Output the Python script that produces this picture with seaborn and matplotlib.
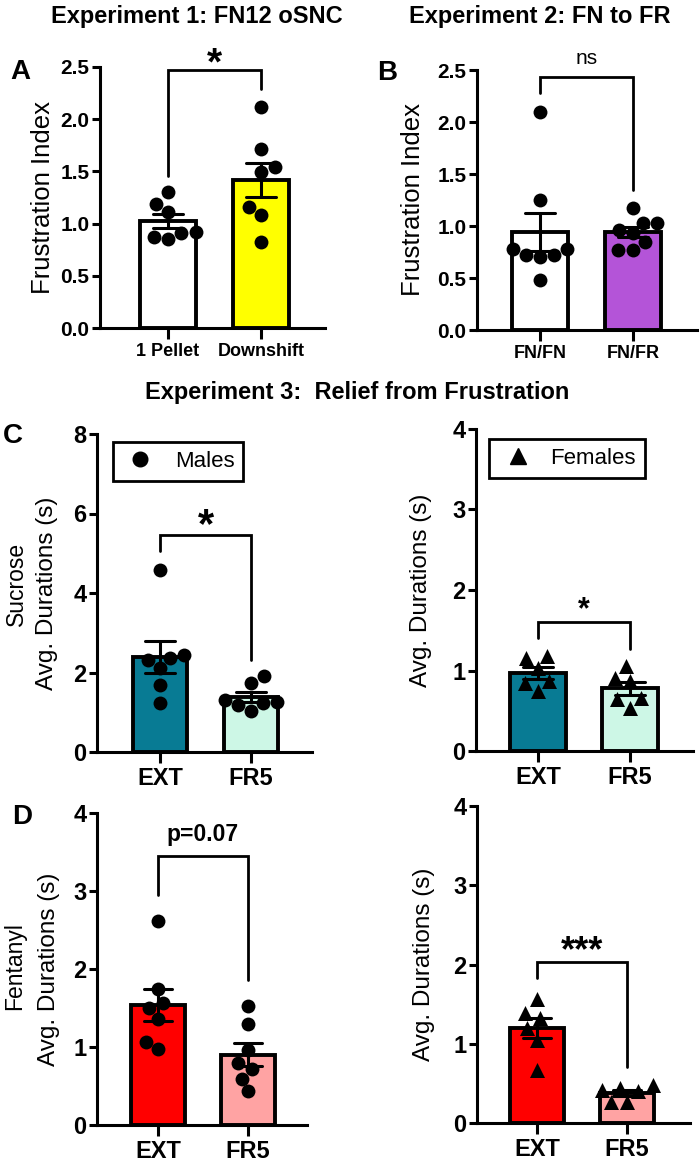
import numpy as np
import pandas as pd
import matplotlib
matplotlib.use("Agg")
import matplotlib.pyplot as plt
import seaborn as sns
from matplotlib.lines import Line2D

# ---------------- data ----------------
a_groups = ["1 Pellet", "Downshift"]
a_pellet = [1.30, 1.19, 1.11, 0.85, 0.92, 0.87, 0.91]
a_down = [2.12, 1.71, 1.54, 1.49, 1.16, 1.08, 0.82]

b_groups = ["FN/FN", "FN/FR"]
b_fnfn = [2.10, 1.25, 0.78, 0.72, 0.70, 0.72, 0.78, 0.48]
b_fnfr = [1.17, 1.03, 1.03, 0.96, 0.93, 0.77, 0.77, 0.85]

cd_groups = ["EXT", "FR5"]
c_male_ext = [4.59, 2.32, 2.36, 2.45, 2.11, 1.69, 1.23]
c_male_fr5 = [1.90, 1.73, 1.18, 1.31, 1.27, 1.23, 1.02]
c_fem_ext = [1.03, 1.18, 1.15, 0.87, 0.85, 0.74]
c_fem_fr5 = [0.91, 0.87, 1.05, 0.53, 0.66, 0.64]
d_male_ext = [2.61, 1.74, 1.50, 1.56, 1.36, 1.07, 0.97]
d_male_fr5 = [1.53, 1.29, 0.96, 0.79, 0.72, 0.59, 0.43]
d_fem_ext = [1.56, 1.39, 1.32, 1.20, 1.05, 0.67]
d_fem_fr5 = [0.44, 0.40, 0.42, 0.48, 0.27, 0.27]

a_colors = ["#ffffff", "#ffff00"]
b_colors = ["#ffffff", "#b454d8"]
c_colors = ["#087b94", "#cdf7e6"]
d_colors = ["#ff0000", "#ffa3a3"]

# ---------------- style ----------------
sns.set_style("ticks")
plt.rcParams["font.family"] = ["Liberation Sans", "DejaVu Sans"]
plt.rcParams["text.color"] = "black"
plt.rcParams["axes.labelcolor"] = "black"
plt.rcParams["xtick.color"] = "black"
plt.rcParams["ytick.color"] = "black"
plt.rcParams["axes.edgecolor"] = "black"

W, H = 700, 1164
fig = plt.figure(figsize=(W / 100, H / 100), dpi=100)


def px_axes(left, top, right, bottom):
    return fig.add_axes([left / W, 1 - bottom / H, (right - left) / W, (bottom - top) / H])


def panel(ax, groups, v1, v2, colors, ylim, yticks, yfmt, xlim, marker, msize,
          tick_fs, xtick_fs):
    df = pd.DataFrame({"group": [groups[0]] * len(v1) + [groups[1]] * len(v2),
                       "value": list(v1) + list(v2)})
    sns.barplot(data=df, x="group", y="value", hue="group", order=groups,
                hue_order=groups, palette=colors, saturation=1, errorbar="se",
                capsize=0.32, err_kws={"color": "k", "linewidth": 2.2},
                edgecolor="k", linewidth=2.8, width=0.6, legend=False, ax=ax)
    sns.swarmplot(data=df, x="group", y="value", order=groups, color="k",
                  marker=marker, size=msize, ax=ax)
    ax.set_xlim(*xlim)
    ax.set_ylim(*ylim)
    ax.set_yticks(yticks)
    ax.set_yticklabels([yfmt.format(t) for t in yticks], fontsize=tick_fs,
                       fontweight="bold", color="k")
    ax.set_xticks([0, 1])
    ax.set_xticklabels(groups, fontsize=xtick_fs, fontweight="bold", color="k")
    ax.set_xlabel("")
    ax.set_ylabel("")
    for s in ["top", "right"]:
        ax.spines[s].set_visible(False)
    for s in ["left", "bottom"]:
        ax.spines[s].set_linewidth(2.2)
        ax.spines[s].set_color("k")
    ax.tick_params(axis="y", length=6, width=2.2, color="k", pad=1.5)
    ax.tick_params(axis="x", length=8, width=2.2, color="k", pad=3)


def bracket(ax, y, yl, yr, text, ty, fs, weight="bold", star=False):
    ax.plot([0, 0, 1, 1], [yl, y, y, yr], color="k", lw=2.0, clip_on=False,
            solid_joinstyle="miter")
    if star:
        ax.annotate(text, xy=(0.5, ty), xytext=(0, -0.56 * fs),
                    textcoords="offset points", ha="center", va="baseline",
                    fontsize=fs, fontweight=weight, annotation_clip=False,
                    color="k")
    else:
        ax.text(0.5, ty, text, ha="center", va="center", fontsize=fs,
                fontweight=weight, color="k")


def ylab(ax, text, xpx, axleft, axright, fs=18, weight="normal", ycen=0.5):
    xa = (xpx - axleft) / (axright - axleft)
    ax.text(xa, ycen, text, transform=ax.transAxes, rotation=90, ha="center",
            va="center", fontsize=fs, fontweight=weight, color="k")


# ---- Panel A ----
axA = px_axes(100, 67, 325, 328)
panel(axA, a_groups, a_pellet, a_down, a_colors, (0, 2.5),
      [0, 0.5, 1.0, 1.5, 2.0, 2.5], "{:.1f}", (-0.731, 1.688), "o", 10, 15, 13)
bracket(axA, 2.47, 1.46, 2.29, "*", 2.64, 28, star=True)
ylab(axA, "Frustration Index", 43, 100, 325, fs=18.5)

# ---- Panel B ----
axB = px_axes(477, 70, 697, 330)
panel(axB, b_groups, b_fnfn, b_fnfr, b_colors, (0, 2.5),
      [0, 0.5, 1.0, 1.5, 2.0, 2.5], "{:.1f}", (-0.677, 1.688), "o", 10, 15, 13)
bracket(axB, 2.43, 2.28, 1.35, "ns", 2.61, 15, weight="normal")
ylab(axB, "Frustration Index", 413, 477, 697, fs=18.5)

# ---- Panel C left (males, sucrose) ----
axC1 = px_axes(97, 434, 312, 752)
panel(axC1, cd_groups, c_male_ext, c_male_fr5, c_colors, (0, 8),
      [0, 2, 4, 6, 8], "{:d}", (-0.692, 1.670), "o", 10, 17, 17)
bracket(axC1, 5.46, 5.06, 2.31, "*", 5.99, 30, star=True)
ylab(axC1, "Avg. Durations (s)", 47, 97, 312, fs=17.5)
ylab(axC1, "Sucrose", 16, 97, 312, fs=16.5, ycen=0.53)
leg = axC1.legend(handles=[Line2D([], [], marker="o", color="k", linestyle="none",
                                  markersize=10.5)],
                  labels=["Males"], loc="upper left", bbox_to_anchor=(0.074, 0.975),
                  borderaxespad=0, fontsize=16, frameon=True, fancybox=False,
                  edgecolor="k", framealpha=1, borderpad=0.4, handlelength=1.63,
                  handletextpad=0.76)
leg.get_frame().set_linewidth(2.0)

# ---- Panel C right (females, sucrose) ----
axC2 = px_axes(476, 429, 693, 751)
panel(axC2, cd_groups, c_fem_ext, c_fem_fr5, c_colors, (0, 4),
      [0, 1, 2, 3, 4], "{:d}", (-0.674, 1.685), "^", 10.8, 17, 17)
bracket(axC2, 1.60, 1.40, 1.27, "*", 1.86, 22, star=True)
ylab(axC2, "Avg. Durations (s)", 421, 476, 693, fs=17.5)
leg2 = axC2.legend(handles=[Line2D([], [], marker="^", color="k", linestyle="none",
                                   markersize=11)],
                   labels=["Females"], loc="upper left", bbox_to_anchor=(0.060, 0.969),
                   borderaxespad=0, fontsize=16, frameon=True, fancybox=False,
                   edgecolor="k", framealpha=1, borderpad=0.4, handlelength=1.81,
                   handletextpad=0.54)
leg2.get_frame().set_linewidth(2.0)

# ---- Panel D left (males, fentanyl) ----
axD1 = px_axes(97, 813, 307, 1125)
panel(axD1, cd_groups, d_male_ext, d_male_fr5, d_colors, (0, 4),
      [0, 1, 2, 3, 4], "{:d}", (-0.678, 1.656), "o", 10, 17, 17)
bracket(axD1, 3.45, 2.95, 1.86, "p=0.07", 3.72, 16.5)
ylab(axD1, "Avg. Durations (s)", 49, 97, 307, fs=17.5)
ylab(axD1, "Fentanyl", 15, 97, 307, fs=16.5, ycen=0.51)

# ---- Panel D right (females, fentanyl) ----
axD2 = px_axes(477, 806, 690, 1123)
panel(axD2, cd_groups, d_fem_ext, d_fem_fr5, d_colors, (0, 4),
      [0, 1, 2, 3, 4], "{:d}", (-0.667, 1.70), "^", 10.8, 17, 17)
bracket(axD2, 2.03, 1.83, 0.71, "***", 2.30, 26, star=True)
ylab(axD2, "Avg. Durations (s)", 424, 477, 690, fs=17.5)

# ---- titles and panel letters ----
def ftext(xpx, ypx, s, fs, weight="bold"):
    fig.text(xpx / W, 1 - ypx / H, s, ha="center", va="center", fontsize=fs,
             fontweight=weight, color="k")


ftext(197, 16, "Experiment 1: FN12 oSNC", 17)
ftext(540, 16, "Experiment 2: FN to FR", 17)
ftext(357, 393, "Experiment 3:  Relief from Frustration", 17)
ftext(20, 72, "A", 20)
ftext(387, 73, "B", 20)
ftext(13, 436, "C", 20)
ftext(22, 817, "D", 20)

fig.savefig("out.png", dpi=100)
